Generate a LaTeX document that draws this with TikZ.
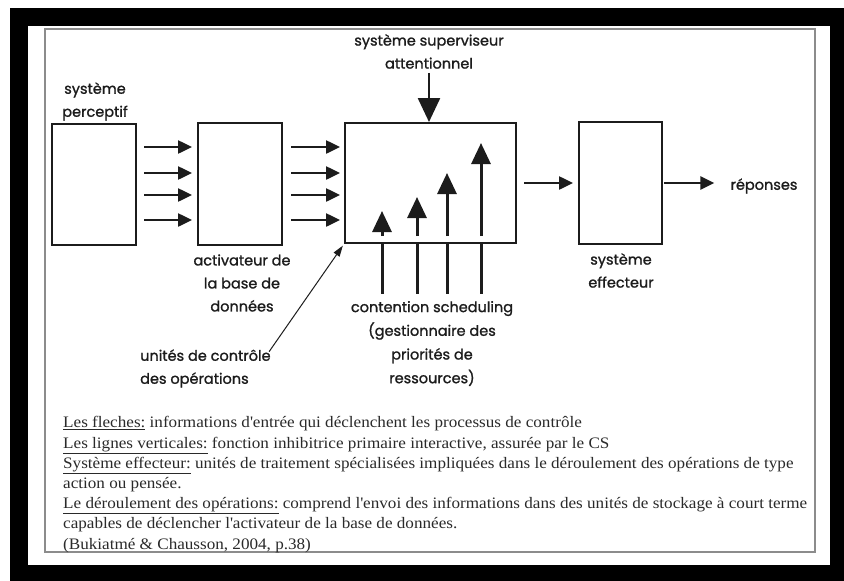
\documentclass[tikz,border=0pt]{standalone}
\usepackage{fontspec}
\setmainfont[FakeStretch=1.07]{Liberation Serif}
\newfontfamily\diagfont[FakeBold=1.2]{Poppins}
\usetikzlibrary{arrows.meta}
\definecolor{ink}{HTML}{1C1C1C}
\definecolor{legendink}{HTML}{2A2A2A}
\definecolor{framegray}{HTML}{8C8C8C}
\begin{document}
\begin{tikzpicture}[x=1pt,y=-1pt,
  stage/.style={draw=ink,line width=2pt,inner sep=0pt,fill=white},
  lbl/.style={font=\diagfont\fontsize{14.5}{23}\selectfont,text=ink,align=center,inner sep=0pt},
  flow/.style={draw=ink,line width=2.5pt,-{Triangle[length=14pt,width=13pt]}},
  rise/.style={draw=ink,line width=3pt,-{Triangle[length=21pt,width=19pt]}},
  inhib/.style={draw=ink,line width=3pt},
  thin/.style={draw=ink,line width=1pt,-{Triangle[length=11pt,width=7pt]}}]
\useasboundingbox (0,0) rectangle (844,581);
% frame around the figure
\fill[white] (0,0) rectangle (844,581);
\fill[black] (10,8) rectangle (844,581);
\fill[white] (28,26) rectangle (830,565);
\draw[framegray,line width=1.5pt] (45,29) rectangle (815,552);

% the four stages
\node[stage,minimum width=84pt,minimum height=121pt] (b1) at (94,184.5) {};
\node[stage,minimum width=84pt,minimum height=122pt] (b2) at (240,184) {};
\node[stage,minimum width=171pt,minimum height=120pt] (b3) at (430.5,183) {};
\node[stage,minimum width=83pt,minimum height=122pt] (b4) at (620.5,183) {};

% labels
\node[lbl] (per) at (95,101.5) {système\\perceptif};
\node[lbl] (act) at (242,283) {activateur de\\la base de\\données};
\node[lbl] (sup) at (429,51.5) {système superviseur\\attentionnel};
\node[lbl,font=\diagfont\fontsize{14.5}{23.7}\selectfont] (cs) at (432,343.5) {contention scheduling\\(gestionnaire des\\priorités de\\ressources)};
\node[lbl] (eff) at (621,270.5) {système\\effecteur};
\node[lbl] (rep) at (764,186) {réponses};
\node[lbl,align=left,anchor=west] (uc) at (140,368.5) {unités de contrôle\\des opérations};

% parallel inputs
\foreach \y in {147,173,195,220} {
  \draw[flow,shorten <=7pt,shorten >=5pt] (b1.east |- 0,\y) -- (b2.west |- 0,\y);
  \draw[flow,shorten <=8pt,shorten >=4pt] (b2.east |- 0,\y) -- (b3.west |- 0,\y);
}
% supervisory input
\draw[draw=ink,line width=2.5pt,-{Triangle[length=24pt,width=22pt]},shorten <=4pt] (sup.south) -- (sup.south |- b3.north);
% outputs
\draw[flow,shorten <=7pt,shorten >=5pt] (b3.east) -- (b4.west);
\draw[flow,shorten <=1pt,shorten >=16pt] (b4.east) -- (rep.west |- b4.east);

% contention scheduling: rising arrows and vertical lines
\foreach \x/\t in {382/211,417/197,447/173,481/143} {
  \draw[rise] (b3.south -| \x,0) ++(0,-8) -- (\x,\t);
  \draw[inhib] (b3.south -| \x,0) -- ++(0,50);
}
% operation control units
\draw[thin,shorten <=-3pt,shorten >=2pt] (uc.north east) -- (b3.south west);

% legend
\node[anchor=north west,align=left,inner sep=0pt,text=legendink,
      font=\fontsize{16}{20.2}\selectfont] (leg) at (63,416.5) {%
\underline{Les fleches:} informations d\textquotesingle entrée qui déclenchent les processus de contrôle\\
\underline{Les lignes verticales:} fonction inhibitrice primaire interactive, assurée par le CS\\
\underline{Système effecteur:} unités de traitement spécialisées impliquées dans le déroulement des opérations de type\\
action ou pensée.\\
\underline{Le déroulement des opérations:} comprend l\textquotesingle envoi des informations dans des unités de stockage à court terme\\
capables de déclencher l\textquotesingle activateur de la base de données.\\
(Bukiatmé \& Chausson, 2004, p.38)};
\end{tikzpicture}
\end{document}
